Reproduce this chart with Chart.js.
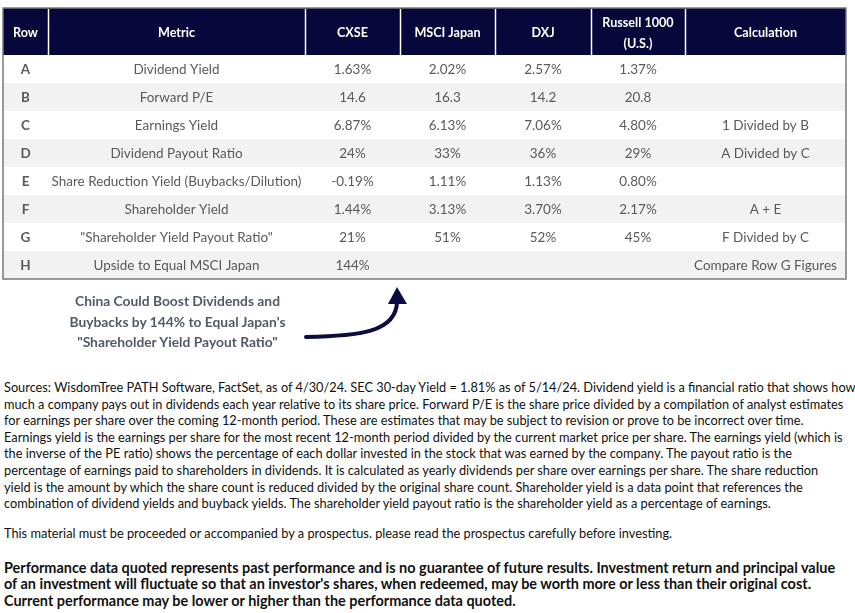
<!DOCTYPE html>
<html><head><meta charset="utf-8">
<script src="https://cdn.jsdelivr.net/npm/chart.js@4.4.1/dist/chart.umd.min.js"></script>
<style>
html,body{margin:0;padding:0;background:#fff;}
#wrap{position:relative;width:855px;height:613px;overflow:hidden;}
#cv{position:absolute;left:0;top:0;width:855px;height:360px;}
#note{position:absolute;left:40px;width:275px;top:291px;text-align:center;font-family:Lato;font-weight:bold;font-size:13px;color:#525a68;line-height:20.5px;white-space:nowrap}
.foot{position:absolute;left:4px;font-family:Lato;color:#111;white-space:nowrap}
.foot div{height:16.6px;line-height:16.6px}
#f3 div{height:16.3px;line-height:16.3px}
</style></head>
<body>
<div id="wrap">
<div id="cv"><canvas id="c"></canvas></div>
<div id="note"></div>
<div id="f1" class="foot" style="top:379px"></div>
<div id="f2" class="foot" style="top:525px"></div>
<div id="f3" class="foot" style="top:560px;font-weight:bold"></div>
</div>
<script>
// ---- data ----
const headers = ['Row','Metric','CXSE','MSCI Japan','DXJ',['Russell 1000','(U.S.)'],'Calculation'];
const rowIds = ['A','B','C','D','E','F','G','H'];
const metrics = ['Dividend Yield','Forward P/E','Earnings Yield','Dividend Payout Ratio','Share Reduction Yield (Buybacks/Dilution)','Shareholder Yield','"Shareholder Yield Payout Ratio"','Upside to Equal MSCI Japan'];
const cxse = ['1.63%','14.6','6.87%','24%','-0.19%','1.44%','21%','144%'];
const msciJapan = ['2.02%','16.3','6.13%','33%','1.11%','3.13%','51%',''];
const dxj = ['2.57%','14.2','7.06%','36%','1.13%','3.70%','52%',''];
const russell1000 = ['1.37%','20.8','4.80%','29%','0.80%','2.17%','45%',''];
const calculation = ['','','1 Divided by B','A Divided by C','','A + E','F Divided by C','Compare Row G Figures'];
const noteLines = ['China Could Boost Dividends and','Buybacks by 144% to Equal Japan\'s','"Shareholder Yield Payout Ratio"'];
const sourceLines = [
 'Sources: WisdomTree PATH Software, FactSet, as of 4/30/24. SEC 30-day Yield = 1.81% as of 5/14/24. Dividend yield is a financial ratio that shows how',
 'much a company pays out in dividends each year relative to its share price. Forward P/E is the share price divided by a compilation of analyst estimates',
 'for earnings per share over the coming 12-month period. These are estimates that may be subject to revision or prove to be incorrect over time.',
 'Earnings yield is the earnings per share for the most recent 12-month period divided by the current market price per share. The earnings yield (which is',
 'the inverse of the PE ratio) shows the percentage of each dollar invested in the stock that was earned by the company. The payout ratio is the',
 'percentage of earnings paid to shareholders in dividends. It is calculated as yearly dividends per share over earnings per share. The share reduction',
 'yield is the amount by which the share count is reduced divided by the original share count. Shareholder yield is a data point that references the',
 'combination of dividend yields and buyback yields. The shareholder yield payout ratio is the shareholder yield as a percentage of earnings.'];
const prospectusLines = ['This material must be proceeded or accompanied by a prospectus. please read the prospectus carefully before investing.'];
const disclaimerLines = [
 'Performance data quoted represents past performance and is no guarantee of future results. Investment return and principal value',
 'of an investment will fluctuate so that an investor\'s shares, when redeemed, may be worth more or less than their original cost.',
 'Current performance may be lower or higher than the performance data quoted.'];

// ---- layout (not data) ----
const colEdges = [0,45,302,397,492,588,682,843]; // x-scale units
const HEADER_H = 47;
const NAVY = '#07073b';
const TEXT = '#595959';

const mctx = document.createElement('canvas').getContext('2d');
function fitSize(str, weight, target){ mctx.font = weight+' 100px Lato'; return 100*target/mctx.measureText(str).width; }
const bodySize = fitSize('Share Reduction Yield (Buybacks/Dilution)','normal',250);
const headSize = fitSize('Calculation','bold',63);

// html texts
const note = document.getElementById('note');
note.style.fontSize = fitSize(noteLines[1],'bold',217)+'px';
noteLines.forEach(t=>{const d=document.createElement('div');d.textContent=t;note.appendChild(d);});
const footSize = fitSize(sourceLines[1],'normal',842);
function fill(id, lines, size){ const el=document.getElementById(id); el.style.fontSize=size+'px'; lines.forEach(t=>{const d=document.createElement('div');d.textContent=t;el.appendChild(d);}); }
fill('f1', sourceLines, footSize);
fill('f2', prospectusLines, footSize);
fill('f3', disclaimerLines, fitSize(disclaimerLines[0],'bold',833));

const columns = [rowIds, metrics, cxse, msciJapan, dxj, russell1000, calculation];

const tablePlugin = {
  id:'table',
  afterDraw(chart){
    const {ctx, chartArea:a, scales:{x,y}} = chart;
    const n = rowIds.length;
    const rh = a.height / n;
    const left = x.getPixelForValue(colEdges[0]), right = x.getPixelForValue(colEdges[colEdges.length-1]);
    ctx.save();
    // stripes
    rowIds.forEach((r,i)=>{
      const cy = y.getPixelForValue(i);
      ctx.fillStyle = i%2 ? '#f2f2f2' : '#ffffff';
      ctx.fillRect(left, cy-rh/2, right-left, rh);
    });
    // header
    const hTop = a.top - HEADER_H;
    ctx.fillStyle = NAVY;
    ctx.fillRect(left, hTop, right-left, HEADER_H);
    ctx.strokeStyle = '#ffffff'; ctx.lineWidth = 1.5;
    for (let k=1;k<colEdges.length-1;k++){
      const px = Math.round(x.getPixelForValue(colEdges[k]))+0.5;
      ctx.beginPath(); ctx.moveTo(px,hTop+1); ctx.lineTo(px,a.top); ctx.stroke();
    }
    ctx.fillStyle = '#ffffff'; ctx.textAlign='center'; ctx.textBaseline='middle';
    ctx.font = 'bold '+headSize+'px Lato';
    headers.forEach((h,k)=>{
      const cx = x.getPixelForValue((colEdges[k]+colEdges[k+1])/2);
      if (Array.isArray(h)) { ctx.fillText(h[0],cx,hTop+14.5); ctx.fillText(h[1],cx,hTop+35.5); }
      else ctx.fillText(h,cx,hTop+HEADER_H/2+1);
    });
    // cells
    columns.forEach((col,k)=>{
      const cx = x.getPixelForValue((colEdges[k]+colEdges[k+1])/2);
      ctx.font = (k===0?'bold ':'')+bodySize+'px Lato';
      ctx.fillStyle = TEXT;
      col.forEach((v,i)=>{ if(v) ctx.fillText(v, cx, y.getPixelForValue(i)+1); });
    });
    // border
    ctx.strokeStyle = '#7a7a7a'; ctx.lineWidth = 1.5;
    ctx.strokeRect(left, hTop, right-left, a.bottom-hTop);
    // arrow pointing to upside cell
    const tipX = x.getPixelForValue(colEdges[3]) - 3;
    const baseY = a.bottom + 58;
    ctx.strokeStyle = '#0c0c40'; ctx.fillStyle='#0c0c40'; ctx.lineWidth = 4; ctx.lineCap='round';
    ctx.beginPath();
    ctx.moveTo(tipX-91, baseY);
    ctx.bezierCurveTo(tipX-40, baseY-1, tipX, baseY-4, tipX, baseY-36);
    ctx.stroke();
    ctx.beginPath();
    ctx.moveTo(tipX, a.bottom+8);
    ctx.lineTo(tipX+10, baseY-33);
    ctx.lineTo(tipX-9, baseY-33);
    ctx.closePath(); ctx.fill();
    ctx.restore();
  }
};

new Chart(document.getElementById('c'), {
  type:'bar',
  data:{ labels: rowIds, datasets:[{data: rowIds.map(()=>null)}] },
  options:{
    indexAxis:'y', responsive:true, maintainAspectRatio:false, animation:false,
    layout:{ padding:{ top: 55, left: 3, right: 9, bottom: 81 } },
    plugins:{ legend:{display:false}, tooltip:{enabled:false} },
    scales:{
      y:{ type:'category', display:false, offset:true },
      x:{ type:'linear', display:false, min:0, max:843 }
    }
  },
  plugins:[tablePlugin]
});
</script>
</body></html>
